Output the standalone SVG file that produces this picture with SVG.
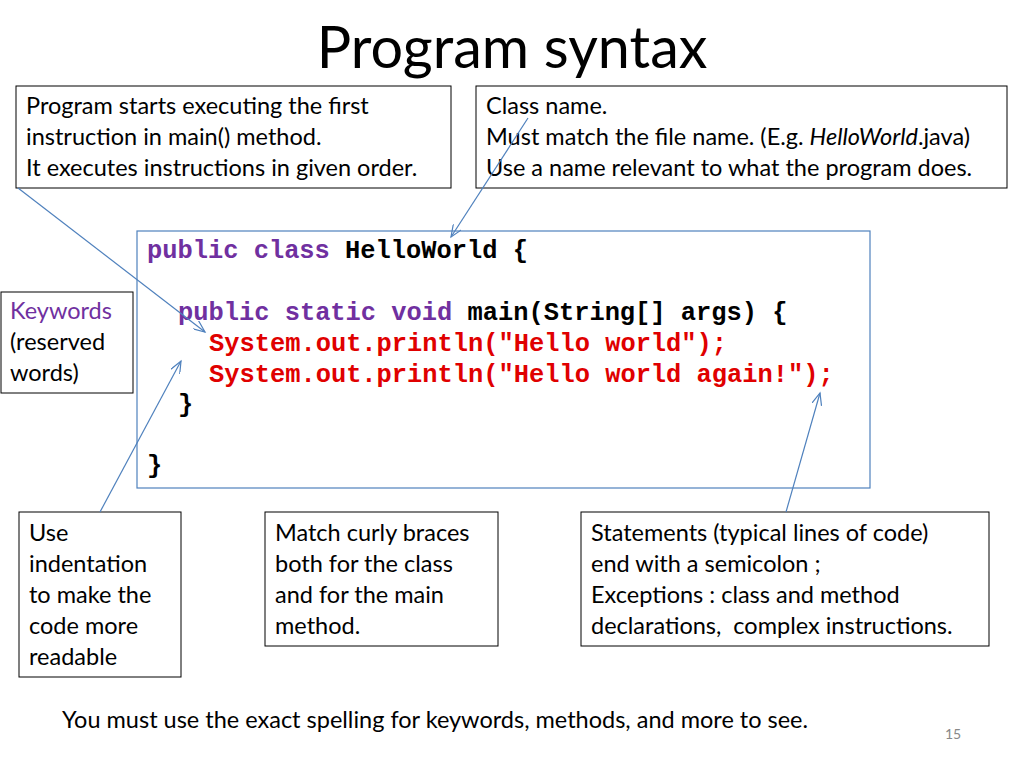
<svg xmlns="http://www.w3.org/2000/svg" width="1024" height="768" viewBox="0 0 1024 768">
<style>
.t{font-family:Lato,"Open Sans",sans-serif;font-size:23.5px;fill:#000}
.box{fill:#fff;stroke:#000;stroke-width:1}
.c{font-family:"Liberation Mono",monospace;font-weight:bold;font-size:25.4px;fill:#000}
.k{fill:#7030A0}.r{fill:#E00000}
.ln{stroke:#4F81BD;stroke-width:1.2;fill:none;marker-end:url(#a)}
</style>
<defs><marker id="a" markerWidth="14" markerHeight="10" refX="12" refY="5" orient="auto" markerUnits="userSpaceOnUse"><path d="M0,0 L12,5 L0,10" fill="none" stroke="#4F81BD" stroke-width="1.2"/></marker></defs>
<rect width="1024" height="768" fill="#fff"/>
<text x="512" y="68" text-anchor="middle" font-family="Lato,'Open Sans',sans-serif" font-size="57.5">Program syntax</text>
<g id="code"><rect x="137" y="231" width="733" height="257" fill="#fff" stroke="#4F81BD" stroke-width="1.2"/>
<text class="c" x="147" y="258"><tspan class="k">public class</tspan> HelloWorld {</text>
<text class="c" x="178" y="320"><tspan class="k">public static void</tspan> main(String[] args) {</text>
<text class="c r" x="209" y="351">System.out.println("Hello world");</text>
<text class="c r" x="209" y="382">System.out.println("Hello world again!");</text>
<text class="c" x="178" y="412">}</text>
<text class="c" x="147" y="473">}</text></g>
<g id="n1"><rect class="box" x="16" y="86" width="435" height="102"/>
<text class="t" x="26" y="114">Program starts executing the first</text>
<text class="t" x="26" y="145">instruction in main() method.</text>
<text class="t" x="26" y="176">It executes instructions in given order.</text></g>
<g id="n2"><rect class="box" x="476" y="86" width="531" height="102"/>
<text class="t" x="486" y="114">Class name.</text>
<text class="t" x="486" y="145">Must match the file name. (E.g. <tspan font-style="italic">HelloWorld</tspan>.java)</text>
<text class="t" x="486" y="176">Use a name relevant to what the program does.</text></g>
<g id="n3"><rect class="box" x="1" y="292" width="132" height="101"/>
<text class="t" x="10" y="319" style="fill:#7030A0">Keywords</text>
<text class="t" x="10" y="350">(reserved</text>
<text class="t" x="10" y="381">words)</text></g>
<g id="n4"><rect class="box" x="19" y="512" width="162" height="165"/>
<text class="t" x="29" y="541">Use</text><text class="t" x="29" y="572">indentation</text><text class="t" x="29" y="603">to make the</text><text class="t" x="29" y="634">code more</text><text class="t" x="29" y="665">readable</text></g>
<g id="n5"><rect class="box" x="265" y="512" width="233" height="134"/>
<text class="t" x="275" y="541">Match curly braces</text><text class="t" x="275" y="572">both for the class</text><text class="t" x="275" y="603">and for the main</text><text class="t" x="275" y="634">method.</text></g>
<g id="n6"><rect class="box" x="581" y="512" width="408" height="134"/>
<text class="t" x="591" y="541">Statements (typical lines of code)</text><text class="t" x="591" y="572">end with a semicolon ;</text><text class="t" x="591" y="603">Exceptions : class and method</text><text class="t" x="591" y="634" xml:space="preserve">declarations,  complex instructions.</text></g>
<text class="t" x="62" y="728">You must use the exact spelling for keywords, methods, and more to see.</text>
<text x="953" y="739" text-anchor="middle" font-family="Lato,sans-serif" font-size="14" fill="#888">15</text>
<g id="connectors">
<line class="ln" x1="18" y1="188" x2="205" y2="332"/>
<line class="ln" x1="528" y1="118" x2="451" y2="237"/>
<line class="ln" x1="100" y1="512" x2="181" y2="361"/>
<line class="ln" x1="786" y1="512" x2="820" y2="393"/>
</g>
</svg>
